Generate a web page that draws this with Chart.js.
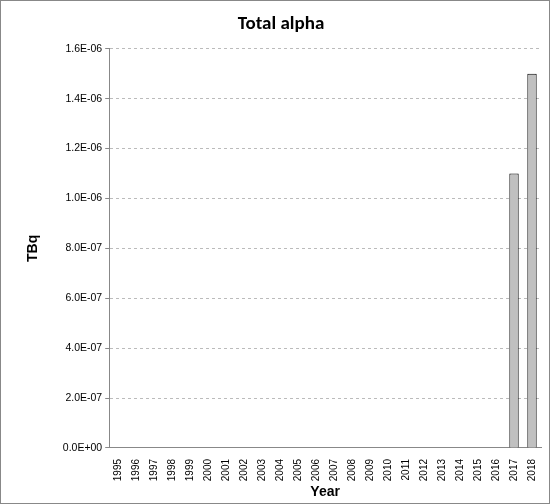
<!DOCTYPE html>
<html><head>
<script src="https://cdn.jsdelivr.net/npm/chart.js@4"></script>
<style>
html,body{margin:0;padding:0;background:#fff;}
#wrap{position:absolute;left:0;top:0;width:548px;height:502px;border:1px solid #888;}
</style>
</head><body>
<div id="wrap"><canvas id="c" width="548" height="502"></canvas></div>
<script>
const years = ['1995','1996','1997','1998','1999','2000','2001','2002','2003','2004','2005','2006','2007','2008','2009','2010','2011','2012','2013','2014','2015','2016','2017','2018'];
const totalAlpha = [null,null,null,null,null,null,null,null,null,null,null,null,null,null,null,null,null,null,null,null,null,null,1.1e-6,1.5e-6];

new Chart(document.getElementById('c'), {
  type: 'bar',
  data: {
    labels: years,
    datasets: [{
      data: totalAlpha,
      backgroundColor: '#c0c0c0',
      borderColor: '#000',
      borderWidth: 1,
      barPercentage: 0.95,
      categoryPercentage: 0.55
    }]
  },
  options: {
    responsive: false,
    animation: false,
    layout: {padding: {left: 20, right: 8, top: 4, bottom: 0}},
    plugins: {
      legend: {display: false},
      tooltip: {enabled: false},
      title: {display: true, text: 'Total alpha', color: '#000',
        font: {family: 'Calibri, Carlito, "Liberation Sans", sans-serif', size: 19, weight: 'bold'},
        padding: {top: 8, bottom: 13}}
    },
    scales: {
      x: {
        grid: {display: false, drawTicks: true},
        border: {color: '#888'},
        ticks: {color: '#000', maxRotation: 90, minRotation: 90, autoSkip: false,
          font: {family: '"Liberation Sans", sans-serif', size: 10}},
        title: {display: true, text: 'Year', color: '#000',
          font: {family: '"Liberation Sans", sans-serif', size: 14, weight: 'bold'}, padding: {top: 0, bottom: 2}}
      },
      y: {
        min: 0, max: 1.6e-6,
        border: {color: '#888', dash: [3, 3]},
        grid: {color: '#bbb', drawTicks: true, tickColor: '#888', tickLength: 4},
        ticks: {stepSize: 2e-7, color: '#000',
          font: {family: '"Liberation Sans", sans-serif', size: 10.5},
          callback: v => {
            const s = Number(v).toExponential(1).toUpperCase();
            const m = s.match(/^([\d.]+)E([+-])(\d+)$/);
            return m[1] + 'E' + m[2] + m[3].padStart(2, '0');
          }},
        title: {display: true, text: 'TBq', color: '#000',
          font: {family: '"Liberation Sans", sans-serif', size: 14, weight: 'bold'}, padding: {bottom: 18}}
      }
    }
  }
});
</script>
</body></html>
